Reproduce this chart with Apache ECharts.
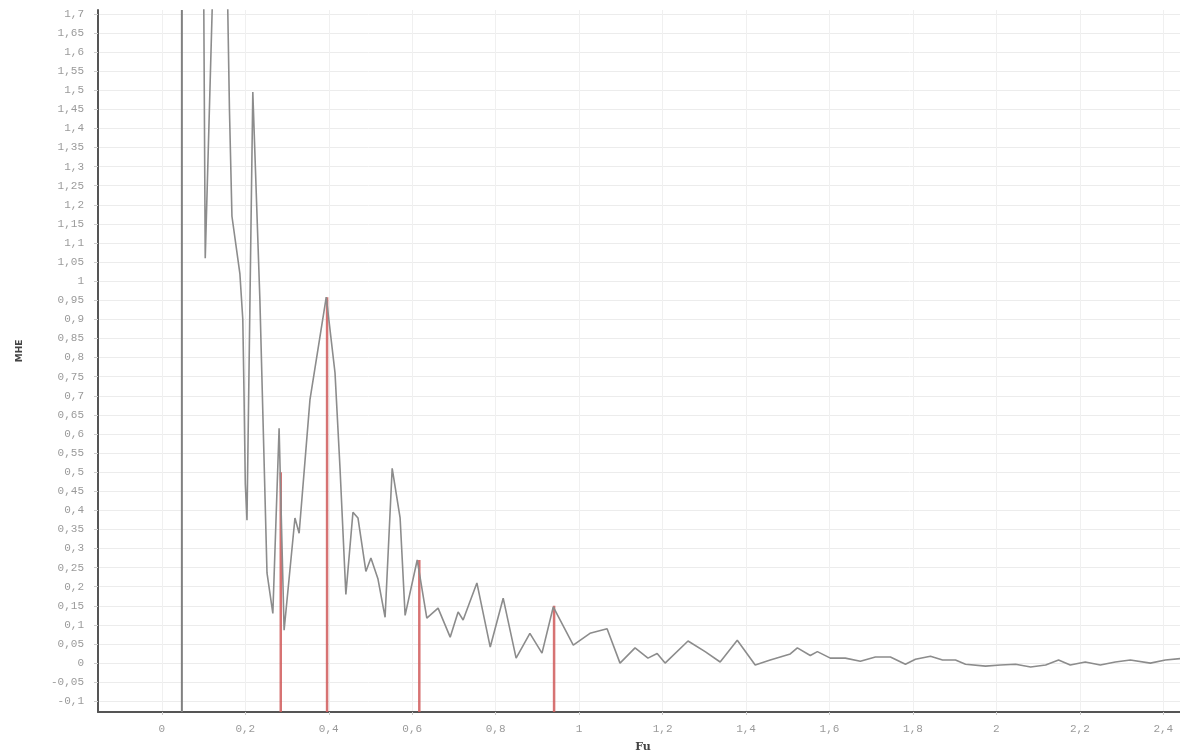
<!DOCTYPE html>
<html>
<head>
<meta charset="utf-8">
<script src="https://cdn.jsdelivr.net/npm/echarts@6/dist/echarts.min.js"></script>
<style>
  html, body { margin: 0; padding: 0; background: #fff; }
  #chart { width: 1180px; height: 753px; }
</style>
</head>
<body>
<div id="chart"></div>
<script>
// spectrum curve (gray)
var curveX = [0.098, 0.104, 0.128, 0.145, 0.158, 0.162, 0.168, 0.187, 0.194, 0.197, 0.2, 0.204,
    0.218, 0.235, 0.252, 0.266, 0.281, 0.293, 0.319, 0.329, 0.355, 0.394, 0.415, 0.427, 0.441,
    0.458, 0.47, 0.489, 0.501, 0.518, 0.535, 0.552, 0.571, 0.583, 0.612, 0.635, 0.662, 0.691,
    0.71, 0.722, 0.755, 0.787, 0.818, 0.849, 0.882, 0.911, 0.938, 0.986, 1.026, 1.067, 1.098,
    1.134, 1.165, 1.187, 1.206, 1.261, 1.302, 1.338, 1.379, 1.422, 1.458, 1.506, 1.523, 1.554,
    1.571, 1.602, 1.638, 1.674, 1.71, 1.746, 1.782, 1.806, 1.842, 1.871, 1.902, 1.926, 1.974,
    2.01, 2.046, 2.082, 2.118, 2.149, 2.177, 2.213, 2.249, 2.285, 2.321, 2.369, 2.405, 2.441];
var curveY = [2.2, 1.06, 2.0, 2.2, 1.71, 1.45, 1.17, 1.02, 0.90, 0.70, 0.47, 0.374,
    1.495, 0.95, 0.236, 0.13, 0.615, 0.086, 0.38, 0.34, 0.69, 0.958, 0.76, 0.51, 0.18,
    0.395, 0.38, 0.24, 0.275, 0.22, 0.12, 0.51, 0.38, 0.125, 0.27, 0.118, 0.144, 0.068,
    0.134, 0.113, 0.21, 0.042, 0.17, 0.013, 0.078, 0.026, 0.147, 0.047, 0.078, 0.09, 0.0,
    0.04, 0.013, 0.025, 0.0, 0.058, 0.03, 0.003, 0.06, -0.005, 0.008, 0.024, 0.04, 0.02,
    0.03, 0.013, 0.013, 0.005, 0.016, 0.016, -0.003, 0.01, 0.018, 0.008, 0.008, -0.003, -0.008,
    -0.005, -0.003, -0.01, -0.005, 0.008, -0.005, 0.003, -0.005, 0.003, 0.008, 0, 0.008, 0.012];

// red peak stems
var stemX = [0.285, 0.396, 0.617, 0.94];
var stemY = [0.5, 0.958, 0.27, 0.15];

// gray cursor line
var cursorX = 0.048;

var xTicks = [0, 0.2, 0.4, 0.6, 0.8, 1, 1.2, 1.4, 1.6, 1.8, 2, 2.2, 2.4];
var yTicks = [-0.1, -0.05, 0, 0.05, 0.1, 0.15, 0.2, 0.25, 0.3, 0.35, 0.4, 0.45, 0.5, 0.55,
    0.6, 0.65, 0.7, 0.75, 0.8, 0.85, 0.9, 0.95, 1, 1.05, 1.1, 1.15, 1.2, 1.25, 1.3, 1.35,
    1.4, 1.45, 1.5, 1.55, 1.6, 1.65, 1.7];

var xMin = -0.153, xMax = 2.44;
var yMin = -0.128, yMax = 1.71;

function comma(v) {
    return String(Math.round(v * 100) / 100).replace('.', ',');
}

var chart = echarts.init(document.getElementById('chart'));

var curve = curveX.map(function (x, i) {
    return [x, curveY[i]];
});

var stems = [];
stemX.forEach(function (x, i) {
    stems.push([x, yMin]);
    stems.push([x, stemY[i]]);
    stems.push([x, '-']);
});

var option = {
    animation: false,
    backgroundColor: '#fff',
    grid: {
        left: 98,
        right: 0,
        top: 10,
        bottom: 41,
        outerBoundsMode: 'none',
        containLabel: false
    },
    xAxis: {
        type: 'value',
        min: xMin,
        max: xMax,
        name: 'Fu',
        nameLocation: 'middle',
        nameGap: 30,
        nameTextStyle: {color: '#444', fontSize: 11, fontWeight: 'bold', fontFamily: 'DejaVu Serif', padding: [0, 0, 0, 8]},
        axisLine: {onZero: false, lineStyle: {color: '#555', width: 2}},
        axisTick: {show: true, customValues: xTicks, length: 3, lineStyle: {color: '#ccc'}},
        axisLabel: {
            customValues: xTicks,
            formatter: comma,
            color: '#9a9a9a',
            fontFamily: 'Liberation Mono',
            fontSize: 11,
            margin: 12
        },
        splitLine: {show: true, lineStyle: {color: '#f0f0f0', width: 1}}
    },
    yAxis: {
        type: 'value',
        min: yMin,
        max: yMax,
        name: 'MHE',
        nameLocation: 'middle',
        nameGap: 74,
        nameTextStyle: {color: '#444', fontSize: 9, fontWeight: 'bold', fontFamily: 'DejaVu Sans', padding: [0, 0, 0, 20]},
        axisLine: {onZero: false, lineStyle: {color: '#555', width: 2}},
        axisTick: {show: true, customValues: yTicks, length: 4, lineStyle: {color: '#ccc'}},
        axisLabel: {
            customValues: yTicks,
            formatter: comma,
            color: '#9a9a9a',
            fontFamily: 'Liberation Mono',
            fontSize: 11,
            margin: 14
        },
        splitLine: {show: true, lineStyle: {color: '#ececec', width: 1}}
    },
    series: [{
        name: 'stems',
        type: 'line',
        data: stems,
        symbol: 'none',
        connectNulls: false,
        lineStyle: {color: '#d05a5a', width: 2.5, opacity: 0.85},
        z: 2
    }, {
        name: 'cursor',
        type: 'line',
        data: [[cursorX, yMin], [cursorX, yMax]],
        symbol: 'none',
        lineStyle: {color: '#808080', width: 2},
        z: 3
    }, {
        name: 'spectrum',
        type: 'line',
        data: curve,
        symbol: 'none',
        clip: true,
        lineStyle: {color: '#8c8c8c', width: 1.6},
        z: 4
    }]
};

chart.setOption(option);
</script>
</body>
</html>
